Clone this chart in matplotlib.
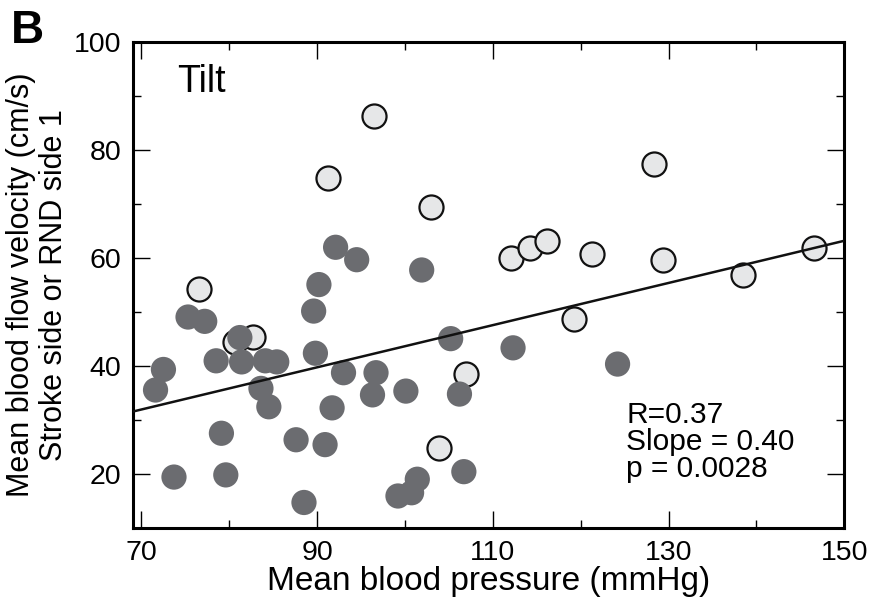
import numpy as np
import matplotlib.pyplot as plt

plt.rcParams['font.family'] = ['Liberation Sans', 'DejaVu Sans']

# stroke side (filled) points
dark_bp = [71.6, 72.5, 73.7, 75.3, 77.2, 78.5, 79.1, 79.6, 81.2, 81.4,
           83.6, 84.1, 84.5, 85.4, 87.6, 88.5, 89.6, 89.8, 90.2, 90.9,
           91.7, 92.1, 93.0, 94.5, 96.3, 96.7, 99.2, 100.1, 100.75, 101.4,
           101.9, 105.2, 106.2, 106.7, 112.3, 124.2]
dark_vel = [35.6, 39.4, 19.5, 49.1, 48.3, 41.0, 27.6, 19.9, 45.3, 40.8,
            35.9, 41.0, 32.5, 40.8, 26.4, 14.8, 50.2, 42.4, 55.1, 25.5,
            32.3, 62.0, 38.8, 59.7, 34.7, 38.8, 16.0, 35.4, 16.6, 19.1,
            57.8, 45.1, 34.85, 20.5, 43.4, 40.4]

# RND side 1 (open) points
open_bp = [76.5, 80.7, 82.7, 91.25, 96.5, 102.95, 103.9, 107.0, 112.1, 114.2,
           116.2, 119.2, 121.3, 128.4, 129.4, 138.5, 146.6]
open_vel = [54.3, 44.5, 45.4, 74.8, 86.3, 69.5, 24.9, 38.5, 60.0, 61.9,
            63.2, 48.7, 60.7, 77.35, 59.6, 56.8, 61.9]

# regression line as drawn
line_x = [69, 150]
fit_slope = 0.39
fit_icpt = 4.7

stats_text = "R=0.37\nSlope = 0.40\np = 0.0028"

fig = plt.figure(figsize=(8.73, 6.06), dpi=100)
ax = fig.add_axes([0.152, 0.128, 0.815, 0.803])

ax.scatter(open_bp, open_vel, s=300, facecolor='#e6e7e8', edgecolor='#111111',
           linewidth=1.6, zorder=2)
ax.scatter(dark_bp, dark_vel, s=330, facecolor='#6b6c70', edgecolor='none', zorder=3)
lx = np.array(line_x)
ax.plot(lx, fit_slope * lx + fit_icpt, color='#111111', lw=1.8, zorder=4)

ax.set_xlim(69, 150)
ax.set_ylim(10, 100)
ax.set_xticks([70, 90, 110, 130, 150])
ax.set_xticks(np.arange(80, 150, 20), minor=True)
ax.set_yticks([20, 40, 60, 80, 100])
ax.set_yticks(np.arange(10, 100, 20), minor=True)
ax.tick_params(which='both', direction='in', top=True, right=True,
               width=1, labelsize=20.5)
ax.tick_params(which='major', length=12, pad=8)
ax.tick_params(which='minor', length=6)
for s in ax.spines.values():
    s.set_linewidth(2.2)

ax.set_xlabel("Mean blood pressure (mmHg)", fontsize=24, labelpad=0)
ax.set_ylabel("Mean blood flow velocity (cm/s)\nStroke side or RND side 1",
              fontsize=22, linespacing=1.12, labelpad=4)

ax.text(0.062, 0.955, "Tilt", transform=ax.transAxes, fontsize=27, va='top')
ax.text(0.694, 0.262, stats_text, transform=ax.transAxes, fontsize=21.5,
        va='top', linespacing=0.95)
fig.text(0.012, 0.985, "B", fontsize=33, fontweight='bold', va='top')

fig.savefig("out.png", dpi=100)
